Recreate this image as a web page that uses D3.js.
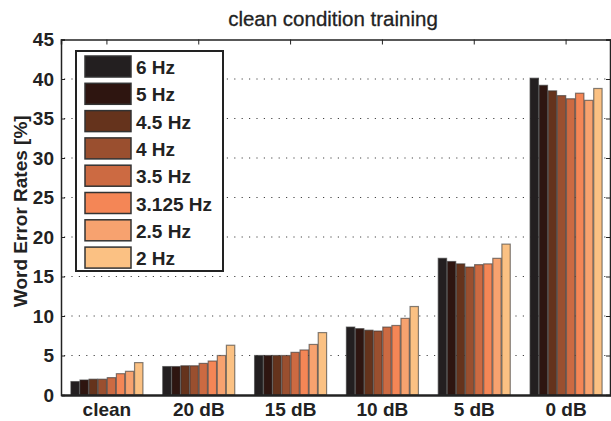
<!DOCTYPE html>
<html>
<head>
<meta charset="utf-8">
<script src="https://cdn.jsdelivr.net/npm/d3@7"></script>
<style>
  body { margin: 0; background: #fff; }
  svg { font-family: "Liberation Sans", Arial, sans-serif; }
  .grid line { stroke: #444; stroke-dasharray: 1.2 6.2; stroke-width: 1; }
</style>
</head>
<body>
<svg width="611" height="421"></svg>
<script>
// conditions on the x axis
categories = ['clean', '20 dB', '15 dB', '10 dB', '5 dB', '0 dB'];
// modulation filter cut-offs (series)
series = ['6 Hz', '5 Hz', '4.5 Hz', '4 Hz', '3.5 Hz', '3.125 Hz', '2.5 Hz', '2 Hz'];
colors = ['#231f20', '#2e1510', '#65331c', '#9a4f2f', '#cc6a42', '#f48656', '#f7a26f', '#fbc183'];
yTicks = [0, 5, 10, 15, 20, 25, 30, 35, 40, 45];

// word error rates [%], one array per series, in category order
hz6   = [1.7, 3.6, 5.0, 8.6, 17.3, 40.1];
hz5   = [1.9, 3.6, 5.0, 8.4, 16.9, 39.2];
hz4_5 = [2.0, 3.7, 5.0, 8.2, 16.6, 38.5];
hz4   = [2.0, 3.7, 5.0, 8.1, 16.2, 37.9];
hz3_5 = [2.2, 4.0, 5.4, 8.6, 16.5, 37.5];
hz3_1 = [2.7, 4.3, 5.7, 8.8, 16.6, 38.2];
hz2_5 = [3.0, 5.0, 6.4, 9.7, 17.3, 37.3];
hz2   = [4.1, 6.3, 7.9, 11.2, 19.1, 38.8];
values = [hz6, hz5, hz4_5, hz4, hz3_5, hz3_1, hz2_5, hz2];

X_LEFT = 61
X_RIGHT = 612
Y_TOP = 39.5
Y_BOTTOM = 395
INK = '#222'

svg = d3.select('svg')

x = d3.scaleBand().domain(categories).range([X_LEFT, X_RIGHT]).paddingInner(0.2).paddingOuter(0.1)
xs = d3.scaleBand().domain(series).range([0, x.bandwidth()]).padding(0.08)
y = d3.scaleLinear().domain([0, 45]).range([Y_BOTTOM, Y_TOP])

// dotted grid
svg.append('g').attr('class', 'grid')
  .selectAll('line')
  .data(yTicks.slice(1, -1))
  .enter().append('line')
  .attr('x1', X_LEFT + 3).attr('x2', X_RIGHT)
  .attr('y1', d => y(d)).attr('y2', d => y(d))

// bars
rows = [];
values.forEach(function (vals, s) {
  vals.forEach(function (v, c) { rows.push({cat: categories[c], s: s, v: v}); });
});
svg.append('g').selectAll('rect')
  .data(rows)
  .enter().append('rect')
  .attr('x', d => x(d.cat) + xs(series[d.s]))
  .attr('width', xs.bandwidth())
  .attr('y', d => y(d.v))
  .attr('height', d => y(0) - y(d.v))
  .attr('fill', d => colors[d.s])
  .attr('stroke', '#333')
  .attr('stroke-opacity', 0.6)
  .attr('stroke-width', 1.2)

// axes
yAxis = svg.append('g').attr('transform', 'translate(' + X_LEFT + ',0)')
  .call(d3.axisLeft(y).tickValues(yTicks).tickSize(-4).tickPadding(7))
yAxis.select('.domain').attr('stroke', INK).attr('stroke-width', 1.5)
yAxis.selectAll('.tick line').attr('stroke', INK)
yAxis.selectAll('text')
  .attr('font-size', 19).attr('font-weight', 'bold').attr('fill', INK).attr('font-family', null)

yRight = svg.append('g').attr('transform', 'translate(' + (X_RIGHT - 2) + ',0)')
  .call(d3.axisRight(y).tickValues(yTicks).tickSize(-4).tickFormat(''))
yRight.select('.domain').attr('stroke', INK).attr('stroke-width', 1.5)
yRight.selectAll('.tick line').attr('stroke', INK)

xTop = svg.append('g').attr('transform', 'translate(0,' + Y_TOP + ')')
  .call(d3.axisTop(x).tickSize(-5).tickFormat(''))
xTop.select('.domain').attr('stroke', INK).attr('stroke-width', 1.5)
xTop.selectAll('.tick line').attr('stroke', INK)

xAxis = svg.append('g').attr('transform', 'translate(0,' + Y_BOTTOM + ')')
  .call(d3.axisBottom(x).tickSize(0).tickPadding(8))
xAxis.select('.domain').attr('stroke', INK).attr('stroke-width', 2.5)
xAxis.selectAll('text')
  .attr('font-size', 19).attr('font-weight', 'bold').attr('fill', INK).attr('font-family', null)

// title and y label
svg.append('text')
  .attr('x', 333).attr('y', 26)
  .attr('text-anchor', 'middle')
  .attr('font-size', 20.5)
  .attr('fill', INK)
  .attr('stroke', INK).attr('stroke-width', 0.3)
  .text('clean condition training')

svg.append('text')
  .attr('transform', 'translate(27,' + ((Y_TOP + Y_BOTTOM) / 2 - 6) + ') rotate(-90)')
  .attr('text-anchor', 'middle')
  .attr('font-size', 19)
  .attr('font-weight', 'bold')
  .attr('fill', INK)
  .text('Word Error Rates [%]')

// legend
legend = svg.append('g').attr('transform', 'translate(76,51)')
legend.append('rect')
  .attr('width', 147).attr('height', 220)
  .attr('fill', '#fff').attr('stroke', INK).attr('stroke-width', 2)
item = legend.selectAll('g.item')
  .data(series)
  .enter().append('g')
  .attr('class', 'item')
  .attr('transform', (d, i) => 'translate(9,' + (5 + 27.3 * i) + ')')
item.append('rect')
  .attr('width', 46).attr('height', 21)
  .attr('fill', (d, i) => colors[i])
  .attr('stroke', '#333').attr('stroke-width', 1.5)
item.append('text')
  .attr('x', 51).attr('y', 18)
  .attr('font-size', 19).attr('font-weight', 'bold').attr('fill', INK)
  .text(d => d)
</script>
</body>
</html>
